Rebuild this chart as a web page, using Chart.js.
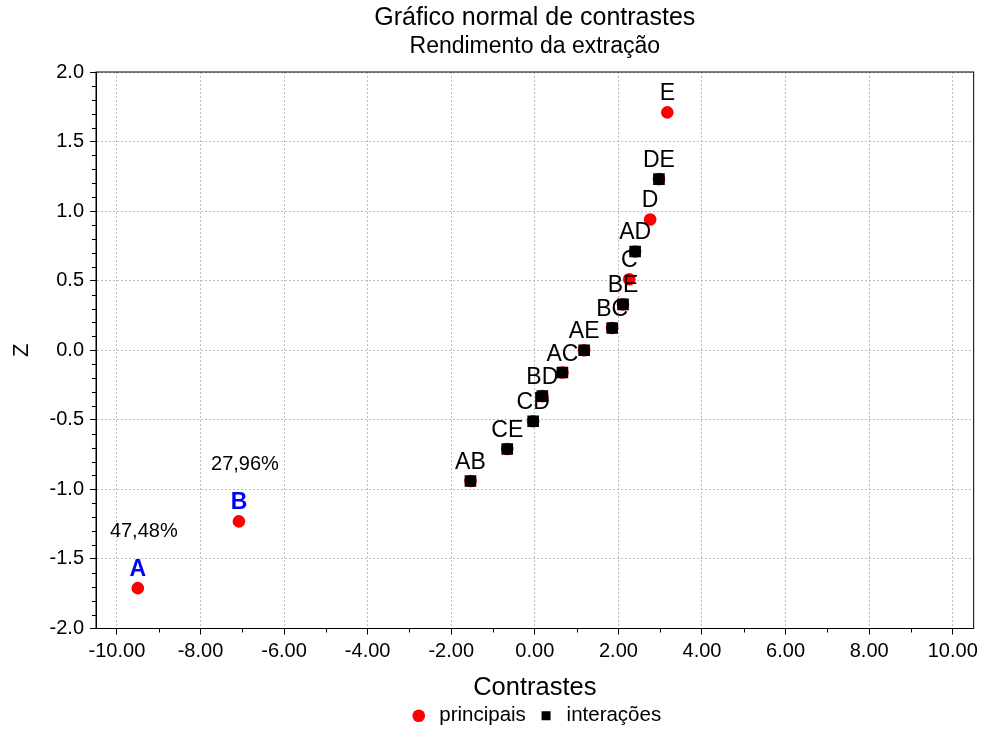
<!DOCTYPE html>
<html lang="pt">
<head>
<meta charset="utf-8">
<title>Gráfico normal de contrastes</title>
<script src="https://cdn.jsdelivr.net/npm/chart.js@4.4.1/dist/chart.umd.min.js"></script>
<style>
  html, body { margin: 0; padding: 0; background: #fff; }
  #wrap { width: 983px; height: 729px; position: relative; }
</style>
</head>
<body>
<div id="wrap"><canvas id="normalPlot"></canvas></div>
<script>
// main effects (red circles)
const mainLabels = ['A', 'B', 'C', 'D', 'E'];
const mainContrasts = [-9.50, -7.08, 2.26, 2.76, 3.17];
const mainZ = [-1.71, -1.23, 0.51, 0.94, 1.71];
const mainPercents = ['47,48%', '27,96%', '', '', ''];

// interactions (black squares)
const interLabels = ['AB', 'CE', 'CD', 'BD', 'AC', 'AE', 'BC', 'BE', 'AD', 'DE'];
const interContrasts = [-1.54, -0.66, -0.04, 0.18, 0.66, 1.18, 1.85, 2.11, 2.40, 2.97];
const interZ = [-0.94, -0.71, -0.51, -0.33, -0.16, 0.00, 0.16, 0.33, 0.71, 1.23];

const xTicks = [-10, -8, -6, -4, -2, 0, 2, 4, 6, 8, 10];
const yTicks = [-2.0, -1.5, -1.0, -0.5, 0.0, 0.5, 1.0, 1.5, 2.0];

const FONT = 'Arial, "Liberation Sans", sans-serif';
Chart.defaults.font.family = FONT;
Chart.defaults.color = '#000';

const toPoints = (xs, ys) => xs.map((x, i) => ({ x: x, y: ys[i] }));

// labels over each point
const pointLabels = {
  id: 'pointLabels',
  afterDatasetsDraw(chart) {
    const ctx = chart.ctx;
    ctx.save();
    ctx.textAlign = 'center';
    ctx.textBaseline = 'alphabetic';
    chart.data.datasets.forEach((ds, di) => {
      if (!ds.pointNames) return;
      const meta = chart.getDatasetMeta(di);
      meta.data.forEach((pt, i) => {
        const pct = ds.percents ? ds.percents[i] : '';
        ctx.font = (pct ? 'bold ' : '') + '23px ' + FONT;
        ctx.fillStyle = pct ? '#0000ff' : '#000';
        ctx.fillText(ds.pointNames[i], pt.x, pt.y - 12);
        if (pct) {
          ctx.font = '20px ' + FONT;
          ctx.fillStyle = '#000';
          ctx.fillText(pct, pt.x + 6, pt.y - 51);
        }
      });
    });
    ctx.restore();
  }
};

// frame + minor ticks
const frame = {
  id: 'frame',
  afterDraw(chart) {
    const { ctx, chartArea: a } = chart;
    const xs = chart.scales.x, ys = chart.scales.y;
    ctx.save();
    ctx.strokeStyle = '#000';
    ctx.lineWidth = 1;
    ctx.strokeRect(a.left, a.top, a.right - a.left, a.bottom - a.top);
    ctx.beginPath();
    for (let v = -9; v <= 9; v += 2) {
      const px = Math.round(xs.getPixelForValue(v)) + 0.5;
      ctx.moveTo(px, a.bottom);
      ctx.lineTo(px, a.bottom + 4);
    }
    for (let k = -20; k <= 20; k++) {
      if (k % 5 === 0) continue;
      const py = Math.round(ys.getPixelForValue(k / 10)) + 0.5;
      ctx.moveTo(a.left - 4, py);
      ctx.lineTo(a.left, py);
    }
    ctx.stroke();
    ctx.restore();
  }
};

new Chart(document.getElementById('normalPlot'), {
  type: 'scatter',
  data: {
    datasets: [
      {
        label: 'principais',
        data: toPoints(mainContrasts, mainZ),
        pointNames: mainLabels,
        percents: mainPercents,
        pointStyle: 'circle',
        pointRadius: 6.3,
        backgroundColor: '#ff0000',
        borderColor: '#ff0000',
        borderWidth: 0
      },
      {
        label: 'interações',
        data: toPoints(interContrasts, interZ),
        pointNames: interLabels,
        pointStyle: 'rect',
        pointRadius: 8.2,
        backgroundColor: '#000',
        borderColor: '#000',
        borderWidth: 0
      },
      {
        label: 'under',
        data: toPoints(interContrasts, interZ),
        pointStyle: 'circle',
        pointRadius: 6.3,
        backgroundColor: '#ff0000',
        borderColor: '#ff0000',
        borderWidth: 0
      }
    ]
  },
  options: {
    responsive: true,
    maintainAspectRatio: false,
    animation: false,
    layout: { padding: { left: 0, right: 7, top: 0, bottom: -7 } },
    plugins: {
      tooltip: { enabled: false },
      title: {
        display: true,
        fullSize: false,
        text: 'Gráfico normal de contrastes',
        color: '#000',
        font: { size: 25, weight: 'normal' },
        padding: { top: 3, bottom: 0 }
      },
      subtitle: {
        display: true,
        fullSize: false,
        text: 'Rendimento da extração',
        color: '#000',
        font: { size: 23 },
        padding: { top: 0, bottom: 11.4 }
      },
      legend: {
        position: 'bottom',
        fullSize: false,
        labels: {
          usePointStyle: true,
          boxHeight: 9,
          padding: 10,
          color: '#000',
          font: { size: 20.5 },
          filter: item => item.text !== 'under'
        }
      }
    },
    scales: {
      x: {
        type: 'linear',
        min: -10.5,
        max: 10.5,
        afterBuildTicks: s => { s.ticks = xTicks.map(v => ({ value: v })); },
        afterFit: s => { s.height = 67; },
        ticks: {
          padding: 5,
          font: { size: 20 },
          color: '#000',
          callback: v => v.toFixed(2)
        },
        grid: { color: '#bdbdbd', tickColor: '#000', tickLength: 6 },
        border: { color: '#000', dash: [2, 2] },
        title: {
          display: true,
          text: 'Contrastes',
          color: '#000',
          font: { size: 25.5 },
          padding: { top: 0, bottom: -8 }
        }
      },
      y: {
        type: 'linear',
        min: -2,
        max: 2,
        afterBuildTicks: s => { s.ticks = yTicks.map(v => ({ value: v })); },
        afterFit: s => { s.width = 96; },
        ticks: {
          padding: 6,
          font: { size: 20 },
          color: '#000',
          callback: v => v.toFixed(1)
        },
        grid: { color: '#bdbdbd', tickColor: '#000', tickLength: 6 },
        border: { color: '#000', dash: [2, 2] },
        title: {
          display: true,
          text: 'Z',
          color: '#000',
          font: { size: 22 },
          padding: { top: 9, bottom: 0 }
        }
      }
    }
  },
  plugins: [pointLabels, frame]
});
</script>
</body>
</html>
